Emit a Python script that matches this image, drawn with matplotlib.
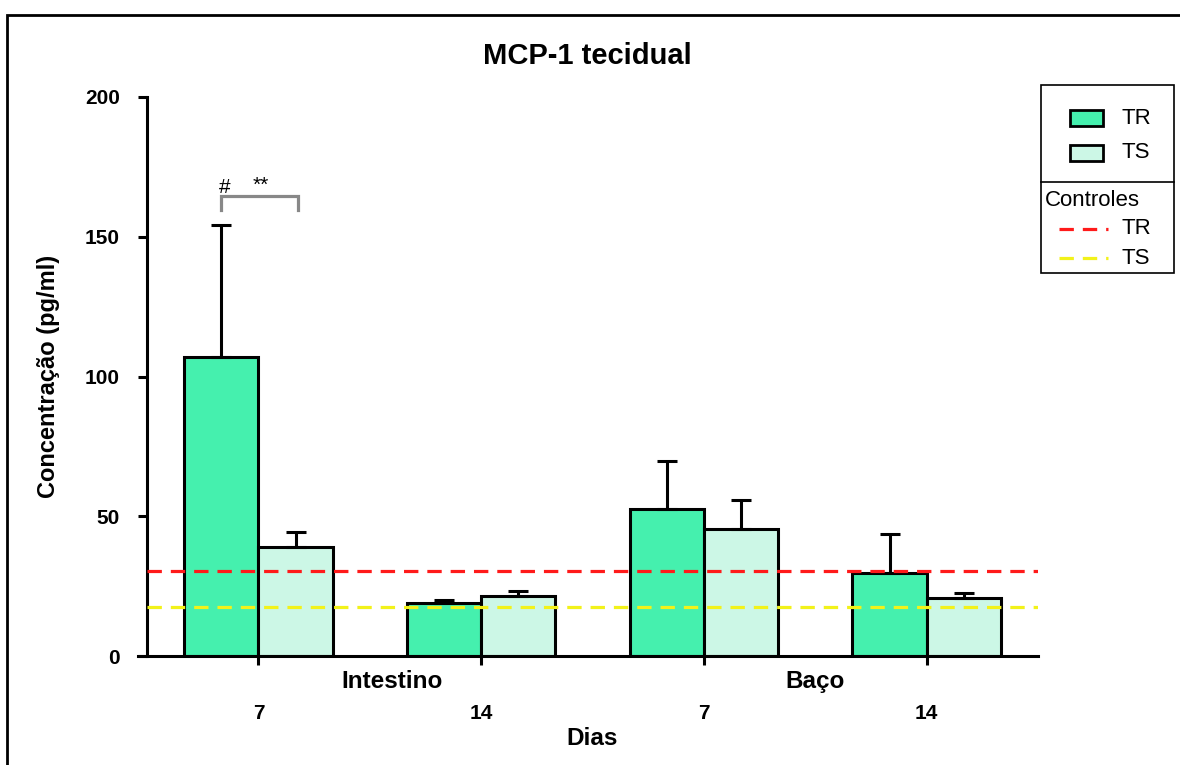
import matplotlib
matplotlib.use("Agg")
import matplotlib.pyplot as plt
from matplotlib.patches import Rectangle
from matplotlib.lines import Line2D
import numpy as np

# ---- data ----
groups = ["7", "14", "7", "14"]
tecidos = ["Intestino", "Baço"]
tr_mean = [107.1, 19.0, 52.5, 29.6]
tr_sem = [47.1, 1.1, 17.3, 14.2]
ts_mean = [39.0, 21.4, 45.4, 20.9]
ts_sem = [5.2, 1.8, 10.4, 1.8]
ctrl_tr = 30.3
ctrl_ts = 17.4

GREEN = "#45F0AE"
LIGHT = "#CCF7E6"
RED = "#FF1A1A"
YELLOW = "#F2F21A"

plt.rcParams["font.family"] = "Liberation Sans"

W, H = 1180, 765
fig = plt.figure(figsize=(W / 100, H / 100), dpi=100)


def fx(px):
    return px / W


def fy(py):
    return 1 - py / H


# axes box in pixels: left 147, right 1038, top 97, bottom 656
ax = fig.add_axes([147 / W, 1 - 656 / H, (1038 - 147) / W, (656 - 97) / H])

x = np.arange(len(groups))
bw = 1 / 3
ekw = dict(ecolor="black", elinewidth=2.2, capsize=7.5, capthick=2.2)
ax.bar(x - bw / 2, tr_mean, bw, color=GREEN, edgecolor="black", linewidth=2.2,
       yerr=[np.zeros(4), tr_sem], error_kw=ekw, zorder=2)
ax.bar(x + bw / 2, ts_mean, bw, color=LIGHT, edgecolor="black", linewidth=2.2,
       yerr=[np.zeros(4), ts_sem], error_kw=ekw, zorder=2)

ax.axhline(ctrl_tr, color=RED, lw=2.3, dashes=(4.5, 2.8), zorder=3)
ax.axhline(ctrl_ts, color=YELLOW, lw=2.3, dashes=(4.5, 2.8), zorder=3)

# significance bracket
bx0, bx1 = x[0] - bw / 2, x[0] + bw / 2 + 0.01
ax.plot([bx0, bx0, bx1, bx1], [159.6, 164.6, 164.6, 159.6], color="#888888", lw=2.3,
        solid_joinstyle="miter", zorder=3)
ax.text(-0.152, 165.7, "#", ha="center", va="baseline", fontsize=15)
ax.text(0.01, 166.4, "**", ha="center", va="baseline", fontsize=15)

ax.set_xlim(-0.5, 3.5)
ax.set_ylim(0, 200)
ax.set_yticks([0, 50, 100, 150, 200])
ax.set_xticks(x)
ax.set_xticklabels(groups)
for lab in ax.get_xticklabels() + ax.get_yticklabels():
    lab.set_fontweight("bold")
    lab.set_fontsize(15)

ax.spines["top"].set_visible(False)
ax.spines["right"].set_visible(False)
for s in ("left", "bottom"):
    ax.spines[s].set_linewidth(2.2)
ax.spines["bottom"].set_bounds(-0.54, 3.5)
ax.tick_params(axis="y", direction="out", length=6.5, width=2.2, pad=13)
ax.tick_params(axis="x", direction="out", length=6.5, width=2.2, pad=28)

# tissue labels under the axis
for xp, t in zip([0.6, 2.5], tecidos):
    ax.text(xp, -(688 - 656) / 559, t, transform=ax.get_xaxis_transform(), ha="center",
            va="baseline", fontsize=17.5, fontweight="bold")

ax.set_xlabel("Dias", fontsize=17.5, fontweight="bold", va="baseline")
ax.xaxis.set_label_coords(0.5, -(745 - 656) / 559)
ax.set_ylabel("Concentração (pg/ml)", fontsize=17, fontweight="bold", va="center")
ax.yaxis.set_label_coords(-(147 - 48.5) / 891, 0.5)

fig.text(fx(587), fy(64), "MCP-1 tecidual", ha="center", va="baseline",
         fontsize=21, fontweight="bold")

# outer frame
fig.patches.append(Rectangle((fx(7), -0.1), 1.2, fy(15) + 0.1, transform=fig.transFigure,
                             fill=False, edgecolor="black", lw=2))

# ---- hand drawn legend box ----
fig.patches.append(Rectangle((fx(1041), fy(273)), fx(1174) - fx(1041), fy(85) - fy(273),
                             transform=fig.transFigure, fill=False, edgecolor="black", lw=1.2))
fig.lines.append(Line2D([fx(1041), fx(1174)], [fy(182), fy(182)], transform=fig.transFigure,
                        color="black", lw=1.2))
for py, col, lab in [(118, GREEN, "TR"), (153, LIGHT, "TS")]:
    fig.patches.append(Rectangle((fx(1070), fy(py + 8)), fx(1103) - fx(1070), fy(py - 8) - fy(py + 8),
                                 transform=fig.transFigure, facecolor=col, edgecolor="black", lw=2))
    fig.text(fx(1121), fy(py), lab, ha="left", va="center", fontsize=16)
fig.text(fx(1045), fy(201), "Controles", ha="left", va="center", fontsize=16)
for py, col, lab in [(229, RED, "TR"), (258, YELLOW, "TS")]:
    fig.lines.append(Line2D([fx(1059), fx(1108)], [fy(py), fy(py)], transform=fig.transFigure,
                            color=col, lw=2.3, dashes=(4.5, 2.8)))
    fig.text(fx(1121), fy(py), lab, ha="left", va="center", fontsize=16)

fig.savefig("out.png", dpi=100)
